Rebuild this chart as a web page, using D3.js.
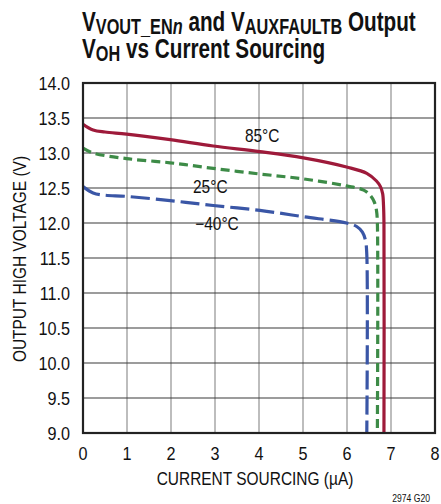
<!DOCTYPE html>
<html>
<head>
<meta charset="utf-8">
<script src="https://cdn.jsdelivr.net/npm/d3@7"></script>
<style>
  body { margin: 0; background: #fff; }
  svg text { font-family: "Liberation Sans", Arial, sans-serif; fill: #111; }
</style>
</head>
<body>
<div id="chart"></div>
<script>
// values
const x_ticks = [0, 1, 2, 3, 4, 5, 6, 7, 8];
const y_ticks = [9.0, 9.5, 10.0, 10.5, 11.0, 11.5, 12.0, 12.5, 13.0, 13.5, 14.0];

const hot_current = [0, 0.23, 0.5, 0.99, 1.98, 2.96, 4.02, 5.01, 5.99, 6.45, 6.67, 6.76, 6.81, 6.83, 6.84, 6.84];
const hot_voltage = [13.41, 13.33, 13.30, 13.27, 13.19, 13.10, 13.02, 12.93, 12.80, 12.71, 12.60, 12.52, 12.42, 12.25, 12.0, 9.0];

const room_current = [0, 0.23, 0.99, 1.98, 2.96, 4.02, 5.01, 5.99, 6.38, 6.52, 6.62, 6.67, 6.69, 6.69];
const room_voltage = [13.07, 13.00, 12.92, 12.86, 12.78, 12.70, 12.63, 12.53, 12.47, 12.40, 12.30, 12.18, 12.0, 9.0];

const cold_current = [0, 0.23, 0.46, 0.99, 1.98, 2.96, 4.02, 5.01, 5.99, 6.22, 6.35, 6.42, 6.45, 6.45];
const cold_voltage = [12.52, 12.43, 12.40, 12.38, 12.32, 12.25, 12.18, 12.09, 12.00, 11.95, 11.87, 11.75, 11.55, 9.0];

const series = [
    {name: "85°C", xs: hot_current, ys: hot_voltage, color: "#9e1a3a", dash: null,
     label_x: 3.68, label_y: 13.16},
    {name: "25°C", xs: room_current, ys: room_voltage, color: "#3d8b47", dash: "9,5",
     label_x: 2.5, label_y: 12.43},
    {name: "\u221240°C", xs: cold_current, ys: cold_voltage, color: "#3a56a6", dash: "19,6",
     label_x: 2.55, label_y: 11.9}
];

const svg_width = 441, svg_height = 504,
    margin = {top: 83, right: 6, bottom: 71, left: 83},
    width = svg_width - margin.left - margin.right,
    height = svg_height - margin.top - margin.bottom;

// the reference uses a condensed face; squeeze Liberation Sans to get near it
const squeeze = 0.86;

let x = d3.scaleLinear().domain([0, 8]).range([0, width]);
let y = d3.scaleLinear().domain([9, 14]).range([height, 0]);

let svg = d3.select("#chart").append("svg")
    .attr("width", svg_width)
    .attr("height", svg_height);

function narrow_text(parent, px, py, str, size, anchor, sx = squeeze) {
    return parent.append("text")
        .attr("transform", "translate(" + px + "," + py + ") scale(" + sx + ",1)")
        .attr("text-anchor", anchor || "start")
        .style("font-size", size + "px")
        .text(str);
}

// title
let title = svg.append("text")
    .attr("transform", "translate(82,31) scale(0.74,1)")
    .style("font-weight", "bold")
    .style("font-size", "28px");
title.append("tspan").text("V");
title.append("tspan").attr("dy", 3).style("font-size", "22px").text("VOUT_EN");
title.append("tspan").style("font-size", "22px").style("font-style", "italic").text("n");
title.append("tspan").attr("dy", -3).text(" and V");
title.append("tspan").attr("dy", 3).style("font-size", "22px").text("AUXFAULTB");
title.append("tspan").attr("dy", -3).text(" Output");

let title2 = svg.append("text")
    .attr("transform", "translate(82,58) scale(0.74,1)")
    .style("font-weight", "bold")
    .style("font-size", "28px");
title2.append("tspan").text("V");
title2.append("tspan").attr("dy", 3).style("font-size", "22px").text("OH");
title2.append("tspan").attr("dy", -3).text(" vs Current Sourcing");

let plot = svg.append("g")
    .attr("transform", "translate(" + margin.left + ", " + margin.top + ")");

// grid
plot.selectAll(".vgrid")
    .data(x_ticks.slice(1, -1))
    .enter().append("line")
    .attr("x1", d => x(d)).attr("x2", d => x(d))
    .attr("y1", 0).attr("y2", height)
    .attr("stroke", "#9a9a9a")
    .attr("stroke-width", 1.3);

plot.selectAll(".hgrid")
    .data(y_ticks.slice(1, -1))
    .enter().append("line")
    .attr("x1", 0).attr("x2", width)
    .attr("y1", d => y(d)).attr("y2", d => y(d))
    .attr("stroke", "#3a3a3a")
    .attr("stroke-width", 1.1);

// curves
const line = d3.line()
    .x(d => x(d[0]))
    .y(d => y(d[1]))
    .curve(d3.curveCatmullRom.alpha(0.5));

for (const s of series) {
    const pts = s.xs.map((v, i) => [v, s.ys[i]]);
    plot.append("path")
        .attr("d", line(pts))
        .attr("fill", "none")
        .attr("stroke", s.color)
        .attr("stroke-width", 3.2)
        .attr("stroke-dasharray", s.dash);
    narrow_text(plot, x(s.label_x), y(s.label_y), s.name, 18);
}

// frame
plot.append("rect")
    .attr("width", width)
    .attr("height", height)
    .attr("fill", "none")
    .attr("stroke", "#222")
    .attr("stroke-width", 2.2);

// tick labels
for (const t of y_ticks) {
    narrow_text(plot, -13, y(t) + 6.5, t.toFixed(1), 18, "end", 0.9);
}
for (const t of x_ticks) {
    narrow_text(plot, x(t), height + 27, String(t), 18, "middle", 0.9);
}

narrow_text(svg, 255, 485, "CURRENT SOURCING (\u00b5A)", 18, "middle");

svg.append("text")
    .attr("transform", "translate(26, 259) rotate(-90) scale(" + squeeze + ",1)")
    .attr("text-anchor", "middle")
    .style("font-size", "18px")
    .text("OUTPUT HIGH VOLTAGE (V)");

narrow_text(svg, 430, 502, "2974 G20", 10, "end");
</script>
</body>
</html>
